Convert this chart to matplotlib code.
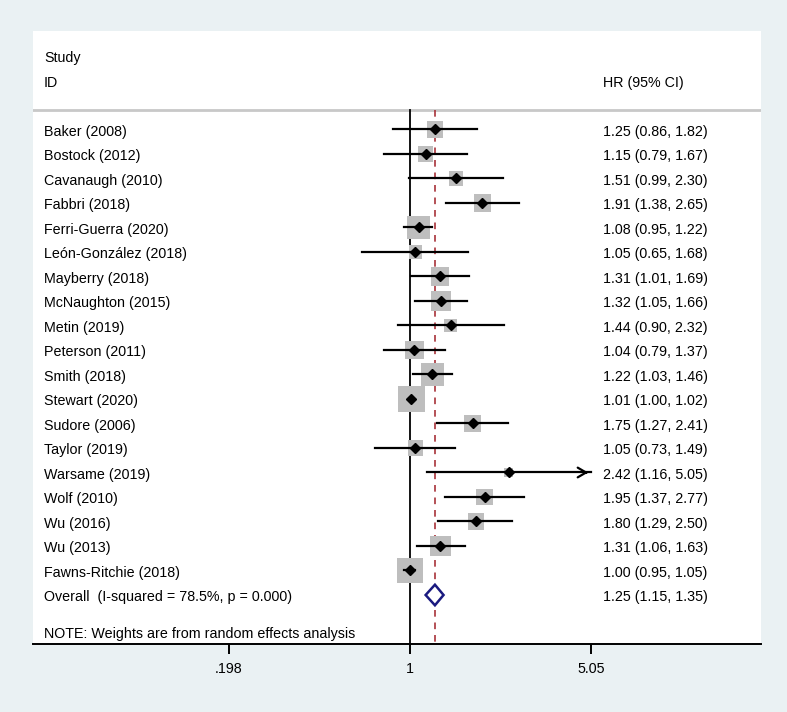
import numpy as np
import matplotlib.pyplot as plt

plt.rcParams['font.family'] = ['Liberation Sans', 'DejaVu Sans']

studies = ['Baker (2008)', 'Bostock (2012)', 'Cavanaugh (2010)', 'Fabbri (2018)',
           'Ferri-Guerra (2020)', 'León-González (2018)', 'Mayberry (2018)',
           'McNaughton (2015)', 'Metin (2019)', 'Peterson (2011)', 'Smith (2018)',
           'Stewart (2020)', 'Sudore (2006)', 'Taylor (2019)', 'Warsame (2019)',
           'Wolf (2010)', 'Wu (2016)', 'Wu (2013)', 'Fawns-Ritchie (2018)']
hr = [1.25, 1.15, 1.51, 1.91, 1.08, 1.05, 1.31, 1.32, 1.44, 1.04, 1.22,
      1.01, 1.75, 1.05, 2.42, 1.95, 1.80, 1.31, 1.00]
lo = [0.86, 0.79, 0.99, 1.38, 0.95, 0.65, 1.01, 1.05, 0.90, 0.79, 1.03,
      1.00, 1.27, 0.73, 1.16, 1.37, 1.29, 1.06, 0.95]
hi = [1.82, 1.67, 2.30, 2.65, 1.22, 1.68, 1.69, 1.66, 2.32, 1.37, 1.46,
      1.02, 2.41, 1.49, 5.05, 2.77, 2.50, 1.63, 1.05]
# approximate random-effects weights (%)
weights = [4.1, 3.6, 3.2, 4.7, 8.6, 2.7, 5.2, 6.5, 2.7, 5.2, 7.8,
           11.0, 4.7, 3.6, 1.3, 4.1, 4.1, 6.5, 10.1]
overall = (1.25, 1.15, 1.35)
overall_label = 'Overall  (I-squared = 78.5%, p = 0.000)'
note = 'NOTE: Weights are from random effects analysis'
xticks = [0.198, 1, 5.05]
xticklabels = ['.198', '1', '5.05']

bg = '#EAF1F3'
fs = 10.3
dy = 0.1  # text sits a little lower than the marks

fig = plt.figure(figsize=(7.87, 7.12), dpi=100, facecolor=bg)
ax = fig.add_axes([33 / 787, 68 / 712, 727.5 / 787, 613 / 712])
ax.set_facecolor('white')
ax.set_xscale('log')
ax.set_xlim(10 ** ((33 - 410) / 257.4), 10 ** ((760.5 - 410) / 257.4))
ax.set_ylim(21.0, -4.02)

n = len(studies)
y = np.arange(n)
sep_y = -0.8

# reference line at 1 and dashed overall line
ax.plot([1, 1], [sep_y, 21.0], color='black', lw=1.3, zorder=2)
ax.plot([overall[0]] * 2, [sep_y, 21.0], color='#A8323A', lw=1.2,
        ls=(0, (4, 3.5)), zorder=2)

# header separator
ax.axhline(sep_y, color='#C8C8C8', lw=2, zorder=1)

# weight boxes
side_px = np.sqrt(np.array(weights)) * 8.1
ax.scatter(hr, y, marker='s', s=(side_px * 0.72) ** 2, color='#BEBEBE',
           edgecolors='none', zorder=3)

xmax_ci = xticks[-1]
for i in range(n):
    if hi[i] >= xmax_ci:
        ax.plot([lo[i], xmax_ci], [y[i], y[i]], color='black', lw=1.6, zorder=4)
        ax.annotate('', xy=(xmax_ci, y[i]), xytext=(xmax_ci * 0.93, y[i]),
                    arrowprops=dict(arrowstyle='->,head_length=0.6,head_width=0.35',
                                    color='black', lw=1.6), zorder=4)
    else:
        ax.plot([lo[i], hi[i]], [y[i], y[i]], color='black', lw=1.6, zorder=4)
ax.plot(hr, y, ls='none', marker='D', markersize=5.2, color='black', zorder=5)

# overall diamond
est, olo, ohi = overall
ax.fill([olo, est, ohi, est, olo], [n, n - 0.42, n, n + 0.42, n],
        facecolor='white', edgecolor='#1A1A80', lw=1.8, zorder=5)

# text columns
tx = ax.get_yaxis_transform()
ax.text(0.0151, -3 + dy, 'Study', transform=tx, fontsize=fs, va='center')
ax.text(0.0151, -2 + dy, 'ID', transform=tx, fontsize=fs, va='center')
ax.text(0.784, -2 + dy, 'HR (95% CI)', transform=tx, fontsize=fs, va='center')
for i in range(n):
    ax.text(0.0151, y[i] + dy, studies[i], transform=tx, fontsize=fs, va='center')
    ax.text(0.784, y[i] + dy, f'{hr[i]:.2f} ({lo[i]:.2f}, {hi[i]:.2f})',
            transform=tx, fontsize=fs, va='center')
ax.text(0.0151, n + dy, overall_label, transform=tx, fontsize=fs, va='center')
ax.text(0.784, n + dy, f'{est:.2f} ({olo:.2f}, {ohi:.2f})', transform=tx,
        fontsize=fs, va='center')
ax.text(0.0151, 20.5 + dy, note, transform=tx, fontsize=fs, va='center')

for s in ['top', 'left', 'right']:
    ax.spines[s].set_visible(False)
ax.spines['bottom'].set_linewidth(1.4)
ax.set_yticks([])
ax.set_xticks(xticks)
ax.set_xticklabels(xticklabels, fontsize=fs)
ax.minorticks_off()
ax.tick_params(axis='x', length=7, width=1.4, pad=6)

fig.savefig('out.png', dpi=100, facecolor=bg)
